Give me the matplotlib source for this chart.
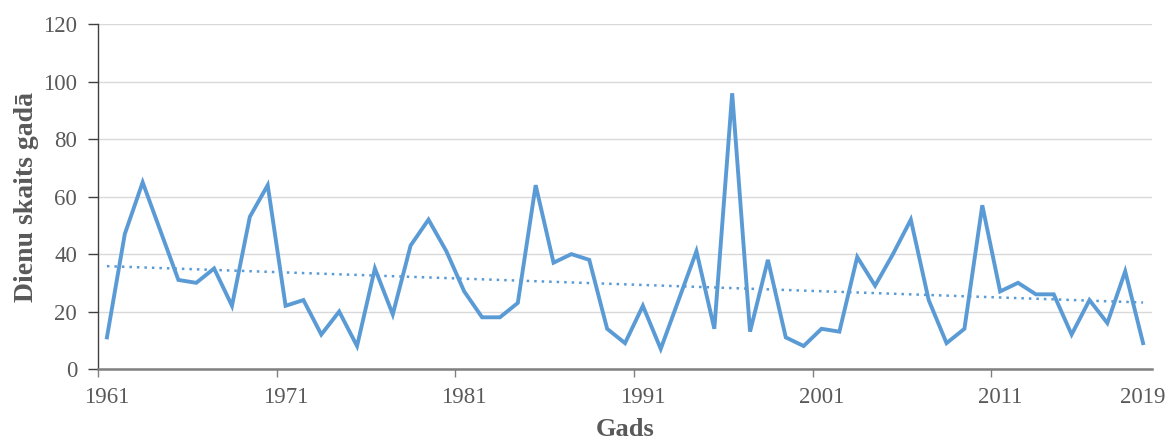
import numpy as np
import matplotlib
matplotlib.use("Agg")
import matplotlib.pyplot as plt

years = list(range(1961, 2020))
days = [11, 47, 65, 48, 31, 30, 35, 22, 53, 64,
        22, 24, 12, 20, 8, 35, 19, 43, 52, 41,
        27, 18, 18, 23, 64, 37, 40, 38, 14, 9,
        22, 7, 24, 41, 14, 96, 13, 38, 11, 8,
        14, 13, 39, 29, 40, 52, 24, 9, 14, 57,
        27, 30, 26, 26, 12, 24, 16, 34, 9]
label_years = [1961, 1971, 1981, 1991, 2001, 2011, 2019]

plt.rcParams['font.family'] = ['Liberation Serif', 'DejaVu Serif']
gray = '#595959'

fig = plt.figure(figsize=(11.70, 4.43), dpi=100)
ax = fig.add_axes([98/1170, 1-369/443, (1152-98)/1170, (369-24.3)/443])

x = np.array(years, dtype=float)
y = np.array(days, dtype=float)
ax.plot(x, y, color='#5B9BD5', lw=2.8, solid_joinstyle='miter', zorder=3)
coef = np.polyfit(x, y, 1)
ax.plot(x, np.polyval(coef, x), color='#5B9BD5', lw=1.8, linestyle=(0, (1, 2.0)), zorder=2)

ax.set_xlim(1960.5, 2019.5)
ax.set_ylim(0, 120)
ax.set_yticks(range(0, 121, 20))
ax.yaxis.grid(True, color='#d9d9d9', lw=1)
ax.set_axisbelow(True)

# labels centred on categories, tick marks on category boundaries
ax.set_xticks(label_years)
ax.set_xticklabels([str(v) for v in label_years])
ax.set_xticks([label_years[0] - 0.5 + 10 * i for i in range(6)], minor=True)
ax.tick_params(axis='x', which='major', length=0, pad=13, colors=gray, labelsize=16.5)
ax.tick_params(axis='x', which='minor', length=6, width=1, color='#808080')

ax.tick_params(axis='y', colors=gray, labelsize=16.5, length=7, width=1, pad=8)
ax.tick_params(axis='y', which='both', color='#404040')

for s in ['top', 'right']:
    ax.spines[s].set_visible(False)
ax.spines['left'].set_color('#404040')
ax.spines['left'].set_linewidth(1)
ax.spines['bottom'].set_color('#808080')
ax.spines['bottom'].set_linewidth(1.8)

ax.set_ylabel('Dienu skaits gadā', fontsize=20, fontweight='bold', color=gray, labelpad=3)
ax.set_xlabel('Gads', fontsize=19, fontweight='bold', color=gray, labelpad=7)

fig.savefig('out.png', dpi=100)
